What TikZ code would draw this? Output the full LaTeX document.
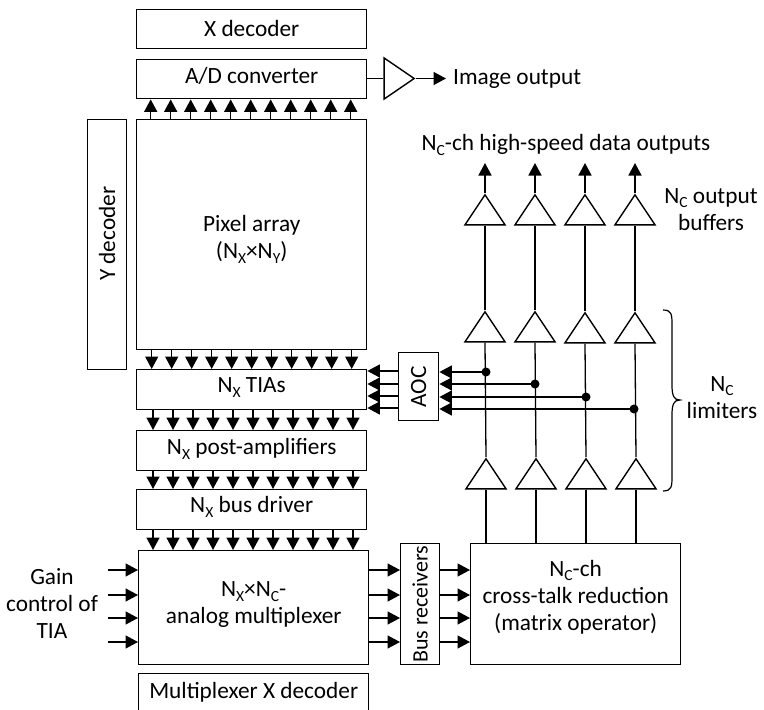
\documentclass[tikz,border=0pt]{standalone}
\usepackage{fontspec}
\setmainfont{Carlito}
\usetikzlibrary{arrows.meta,shapes.geometric}
\newcommand{\sbs}[1]{\raisebox{-0.4ex}{\fontsize{15.5}{15.5}\selectfont #1}}
\tikzset{
  box/.style={draw=black,line width=1.4pt,rectangle,inner sep=0pt,anchor=north west},
  lab/.style={align=center,inner sep=0pt,font=\fontsize{23.3}{27}\selectfont},
  arr/.style={line width=1.5pt,-{Triangle[length=12.5pt,width=13pt]}},
  wire/.style={line width=1.3pt},
  amp/.style={draw=black,line width=1.4pt,isosceles triangle,isosceles triangle stretches,inner sep=0pt,shape border rotate=90,minimum width=40pt,minimum height=30pt,anchor=apex},
  dot/.style={circle,fill=black,inner sep=0pt,minimum size=9pt},
}
\begin{document}
\begin{tikzpicture}[x=1pt,y=-1pt]
\useasboundingbox (0,0) rectangle (764,710);
\newcommand{\bx}[7]{\node[box,minimum width=#4pt,minimum height=#5pt] (#1) at (#2,#3) {};
  \node[lab] (#1t) at ([yshift=#6pt]#1.center) {#7};}
\bx{xdec}{136}{9}{230}{39}{1}{X decoder}
\bx{adc}{136}{59}{230}{39}{3}{A/D converter}
\bx{pix}{136}{119}{230}{230}{-4.5}{Pixel array\\(N\sbs{X}×N\sbs{Y})}
\bx{tia}{136}{369}{230}{40}{2}{N\sbs{X} TIAs}
\bx{post}{136}{430}{230}{40}{2}{N\sbs{X} post-amplifiers}
\bx{drv}{136}{489}{230}{40}{3}{N\sbs{X} bus driver}
\bx{mux}{138}{550}{230}{114}{3}{N\sbs{X}×N\sbs{C}-\\analog multiplexer}
\bx{mdec}{138}{673}{230}{38}{0}{Multiplexer X decoder}
\bx{xtalk}{470}{543}{210}{121}{7}{N\sbs{C}-ch\\cross-talk reduction\\(matrix operator)}
\node[box,minimum width=39pt,minimum height=250pt] (ydec) at (87,119) {};
\node[lab,rotate=90] (ydect) at ([yshift=11pt]ydec.center) {Y decoder};
\node[box,minimum width=40pt,minimum height=68pt] (aoc) at (398,352) {};
\node[lab,rotate=90] (aoct) at (aoc.center) {AOC};
\node[box,minimum width=39pt,minimum height=121pt] (brx) at (400,543) {};
\node[lab,rotate=90,font=\fontsize{22}{26}\selectfont] (brxt) at (brx.center) {Bus receivers};

% 11-fold buses
\foreach \i in {0,...,10}{
  \pgfmathsetmacro{\xa}{150.7+20*\i}
  \pgfmathsetmacro{\xb}{151.7+20*\i}
  \pgfmathsetmacro{\xc}{153+20*\i}
  \draw[arr] (\xa,0 |- pix.north) -- (\xa,0 |- adc.south);
  \draw[arr] (\xb,0 |- pix.south) -- (\xb,0 |- tia.north);
  \draw[arr] (\xc,0 |- tia.south) -- (\xc,0 |- post.north);
  \draw[arr] (\xc,0 |- post.south) -- (\xc,0 |- drv.north);
  \draw[arr] (\xc,0 |- drv.south) -- (\xc,0 |- mux.north);
}

% image output
\node[draw=black,line width=1.4pt,isosceles triangle,isosceles triangle stretches,inner sep=0pt,minimum width=41pt,minimum height=30pt,anchor=apex] (imamp) at (416,78.5) {};
\draw[wire] (adc.east |- imamp.apex) -- (imamp.lower side);
\node[lab,anchor=west] (imtxt) at (453,79.5) {Image output};
\coordinate (imend) at (446,78.5);
\draw[arr] (imamp.apex) -- (imend);

% amplifier columns
\foreach \n/\xt/\xm/\ym/\xb in {1/485/485/310/486,2/535/535/310/536,3/585/585/311/586,4/635/635/311/636}{
  \node[amp] (t\n) at (\xt,193) {};
  \node[amp] (m\n) at (\xm,\ym) {};
  \node[amp] (b\n) at (\xb,457) {};
  \coordinate (o\n) at (\xt,163);
  \draw[arr] (t\n.apex) -- (o\n);
  \draw[wire] (m\n.apex) -- (t\n.lower side);
  \draw[wire] (b\n.apex) -- (m\n.lower side);
  \draw[wire] (b\n.lower side) -- (b\n.lower side |- xtalk.north);
}

% AOC feedback
\foreach \n/\x/\y/\yl in {1/486/372/371,2/535/384/384,3/586/397/396,4/634/409/408}{
  \node[dot] (d\n) at (\x,\y) {};
  \draw[arr] (d\n.center) -- (aoc.east |- d\n.center);
  \draw[arr] (aoc.west |- 0,\yl) -- (tia.east |- 0,\yl);
}

% multiplexer I/O
\foreach \n/\y in {1/570,2/595,3/618,4/642}{
  \coordinate (g\n) at (108,\y);
  \draw[arr] (g\n) -- (mux.west |- g\n);
  \draw[arr] (mux.east |- g\n) -- (brx.west |- g\n);
  \draw[arr] (brx.east |- g\n) -- (xtalk.west |- g\n);
}

% texts
\node[lab] (gain) at (52,603.5) {Gain\\control of\\TIA};
\node[lab] (hs) at (566,145) {N\sbs{C}-ch high-speed data outputs};
\node[lab] (obuf) at (711,209.5) {N\sbs{C} output\\buffers};
\node[lab] (lim) at (722,397.5) {N\sbs{C}\\limiters};
\coordinate (b0) at (663,310);
\draw[line width=1.2pt] (b0) .. controls (672,310) and (672,315) .. (672,325)
  -- (672,385) .. controls (672,396) and (674,400) .. (680,400)
  .. controls (674,400) and (672,404) .. (672,415)
  -- (672,476) .. controls (672,486) and (672,491) .. (663,491);
\end{tikzpicture}
\end{document}
